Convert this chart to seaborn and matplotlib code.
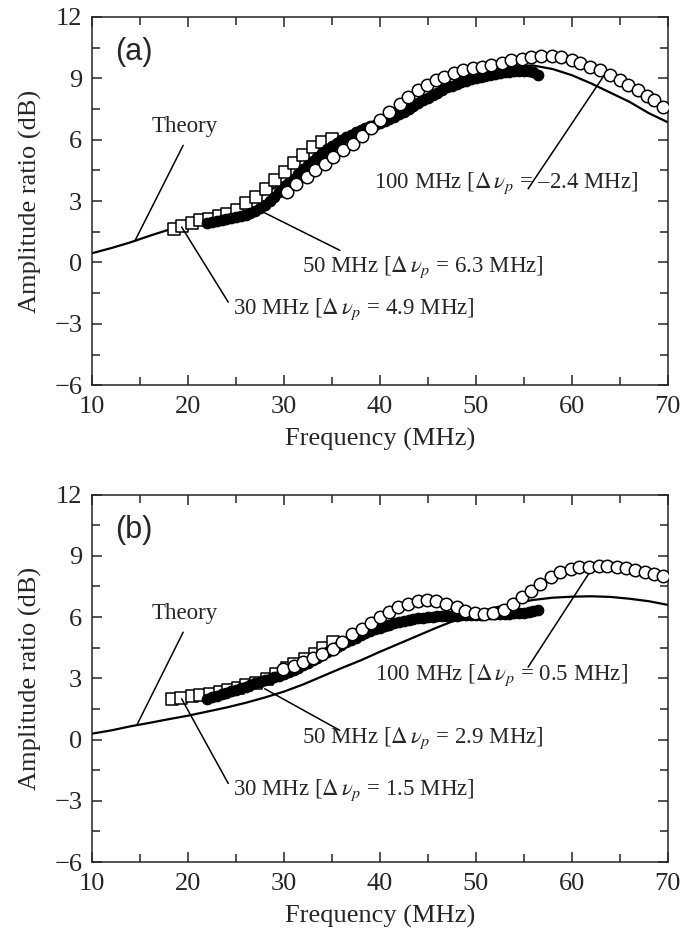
import matplotlib
matplotlib.use('Agg')
import pandas as pd
import matplotlib.pyplot as plt
import seaborn as sns
from matplotlib.ticker import MultipleLocator

# theory curves
theory_f = [10, 12, 14, 16, 18, 20, 22, 24, 26, 28, 30, 32, 34, 36, 38, 40,
            42, 44, 46, 48, 50, 52, 54, 56, 58, 60, 62, 64, 66, 68, 70]
theory_a = [0.45, 0.70, 0.98, 1.30, 1.60, 1.90, 2.15, 2.45, 2.85, 3.35, 3.95, 4.60,
            5.25, 5.90, 6.50, 7.05, 7.55, 8.00, 8.45, 8.85, 9.20, 9.45, 9.62, 9.62,
            9.45, 9.15, 8.75, 8.30, 7.85, 7.30, 6.85]
theory_b = [0.29, 0.45, 0.65, 0.82, 1.00, 1.17, 1.37, 1.57, 1.80, 2.06, 2.35, 2.70,
            3.10, 3.50, 3.88, 4.30, 4.70, 5.10, 5.50, 5.87, 6.20, 6.47, 6.68, 6.84,
            6.95, 7.00, 7.02, 6.99, 6.90, 6.78, 6.60]

# 30 MHz transducer (squares)
f30_a = [18.5, 19.4, 20.4, 21.3, 22.2, 23.2, 24.1, 25.1, 26.1, 27.1, 28.1, 29.1,
         30.1, 31.0, 32.0, 33.0, 34.0, 35.0]
db30_a = [1.65, 1.76, 1.93, 2.06, 2.14, 2.25, 2.39, 2.58, 2.88, 3.20, 3.61, 4.02,
          4.43, 4.84, 5.25, 5.65, 5.90, 6.01]
f30_b = [18.3, 19.3, 20.4, 21.3, 22.3, 23.3, 24.2, 25.2, 26.1, 27.1, 28.2, 29.2,
         30.3, 31.1, 32.2, 33.2, 34.1, 35.1]
db30_b = [2.00, 2.02, 2.12, 2.17, 2.25, 2.33, 2.41, 2.54, 2.66, 2.77, 2.98, 3.23,
          3.52, 3.72, 3.96, 4.20, 4.50, 4.80]

# 50 MHz transducer (filled circles)
f50 = [22.0, 22.5, 23.0, 23.5, 24.0, 24.5, 25.0, 25.5, 26.0, 26.5, 27.0, 27.5,
       28.0, 28.5, 29.0, 29.5, 30.0, 30.5, 31.0, 31.5, 32.0, 32.5, 33.0, 33.5,
       34.0, 34.5, 35.0, 35.5, 36.0, 36.5, 37.0, 37.5, 38.0, 38.5, 39.0, 39.5,
       40.0, 40.5, 41.0, 41.5, 42.0, 42.5, 43.0, 43.5, 44.0, 44.5, 45.0, 45.5,
       46.0, 46.5, 47.0, 47.5, 48.0, 48.5, 49.0, 49.5, 50.0, 50.5, 51.0, 51.5,
       52.0, 52.5, 53.0, 53.5, 54.0, 54.5, 55.0, 55.5, 56.0, 56.5]
db50_a = [1.95, 1.99, 2.03, 2.06, 2.10, 2.15, 2.20, 2.26, 2.32, 2.40, 2.50, 2.64,
          2.80, 3.00, 3.20, 3.42, 3.65, 3.88, 4.10, 4.33, 4.55, 4.75, 4.95, 5.15,
          5.35, 5.53, 5.70, 5.85, 6.00, 6.13, 6.25, 6.35, 6.45, 6.55, 6.65, 6.73,
          6.82, 6.91, 7.00, 7.12, 7.25, 7.37, 7.50, 7.65, 7.80, 7.93, 8.05, 8.18,
          8.30, 8.43, 8.55, 8.64, 8.72, 8.80, 8.88, 8.94, 9.00, 9.05, 9.10, 9.15,
          9.20, 9.24, 9.28, 9.31, 9.33, 9.34, 9.35, 9.33, 9.28, 9.18]
db50_b = [2.00, 2.07, 2.15, 2.22, 2.30, 2.37, 2.45, 2.52, 2.60, 2.67, 2.75, 2.82,
          2.90, 2.97, 3.05, 3.12, 3.20, 3.31, 3.42, 3.53, 3.65, 3.77, 3.90, 4.02,
          4.15, 4.27, 4.40, 4.52, 4.65, 4.77, 4.88, 4.99, 5.10, 5.20, 5.30, 5.40,
          5.48, 5.56, 5.63, 5.70, 5.76, 5.81, 5.86, 5.90, 5.94, 5.97, 6.00, 6.02,
          6.03, 6.04, 6.05, 6.06, 6.07, 6.08, 6.09, 6.10, 6.11, 6.12, 6.13, 6.14,
          6.15, 6.16, 6.16, 6.17, 6.18, 6.19, 6.21, 6.24, 6.28, 6.33]

# 100 MHz transducer (open circles)
f100_a = [30.3, 31.3, 32.4, 33.2, 34.3, 35.1, 36.2, 37.2, 38.1, 39.1, 40.0, 41.0,
          42.1, 42.9, 44.0, 44.9, 45.8, 46.7, 47.7, 48.7, 49.7, 50.6, 51.6, 52.7,
          53.7, 54.8, 55.8, 56.8, 57.9, 58.9, 60.0, 60.9, 61.9, 62.9, 64.0, 65.0,
          65.9, 66.9, 67.8, 68.6, 69.5]
db100_a = [3.44, 3.85, 4.17, 4.50, 4.83, 5.15, 5.51, 5.80, 6.16, 6.57, 6.98, 7.35,
           7.73, 8.08, 8.41, 8.68, 8.92, 9.08, 9.25, 9.38, 9.49, 9.57, 9.66, 9.76,
           9.87, 9.95, 10.03, 10.08, 10.08, 10.02, 9.90, 9.74, 9.57, 9.40, 9.17, 8.92,
           8.68, 8.43, 8.15, 7.92, 7.58]
f100_b = [29.9, 31.0, 32.0, 33.0, 34.0, 35.1, 36.1, 37.1, 38.1, 39.1, 40.0, 41.0,
          41.9, 42.9, 44.0, 44.9, 45.9, 46.9, 48.0, 48.9, 49.9, 50.9, 51.8, 52.9,
          53.9, 54.8, 55.8, 56.7, 57.8, 58.8, 59.9, 60.8, 61.8, 62.8, 63.7, 64.7,
          65.7, 66.6, 67.6, 68.6, 69.5]
db100_b = [3.47, 3.62, 3.80, 3.98, 4.20, 4.45, 4.80, 5.15, 5.42, 5.72, 6.00, 6.24,
           6.48, 6.65, 6.81, 6.85, 6.81, 6.65, 6.48, 6.32, 6.19, 6.16, 6.19, 6.36,
           6.65, 6.97, 7.30, 7.63, 7.95, 8.20, 8.36, 8.44, 8.47, 8.52, 8.52, 8.47,
           8.41, 8.31, 8.20, 8.12, 8.03]

labels_a = ['30 MHz [$\\Delta\\,\\nu_p$ = 4.9 MHz]', '50 MHz [$\\Delta\\,\\nu_p$ = 6.3 MHz]',
            '100 MHz [$\\Delta\\,\\nu_p$ = \u20132.4 MHz]']
labels_b = ['30 MHz [$\\Delta\\,\\nu_p$ = 1.5 MHz]', '50 MHz [$\\Delta\\,\\nu_p$ = 2.9 MHz]',
            '100 MHz [$\\Delta\\,\\nu_p$ = 0.5 MHz]']

sns.set_style('ticks')
plt.rcParams['font.family'] = ['Liberation Serif', 'DejaVu Serif']
plt.rcParams['mathtext.fontset'] = 'stix'
plt.rcParams['axes.linewidth'] = 1.1

fig = plt.figure(figsize=(6.97, 9.35), dpi=100)
ax_a = fig.add_axes([0.132, 0.588, 0.826, 0.394])
ax_b = fig.add_axes([0.132, 0.078, 0.826, 0.393])


def panel(ax, th, f30, d30, d50, f100, d100, tag, labels, pos):
    sns.lineplot(x=theory_f, y=th, ax=ax, color='black', lw=1.6, zorder=2)
    sns.scatterplot(x=f30, y=d30, ax=ax, marker='s', s=72, color='white',
                    edgecolor='black', linewidth=1.1, zorder=3)
    sns.scatterplot(x=f50, y=d50, ax=ax, marker='o', s=58, color='black',
                    edgecolor='black', linewidth=0.8, zorder=4)
    sns.scatterplot(x=f100, y=d100, ax=ax, marker='o', s=80, color='white',
                    edgecolor='black', linewidth=1.1, zorder=5)
    ax.set_xlim(10, 70)
    ax.set_ylim(-6, 12)
    ax.xaxis.set_major_locator(MultipleLocator(10))
    ax.xaxis.set_minor_locator(MultipleLocator(5))
    ax.yaxis.set_major_locator(MultipleLocator(3))
    ax.yaxis.set_minor_locator(MultipleLocator(1.5))
    ax.tick_params(which='both', direction='in', top=True, right=True,
                   width=1.1, labelsize=19)
    ax.tick_params(axis='x', which='both', pad=8)
    ax.tick_params(axis='y', which='both', pad=7)
    ax.tick_params(which='major', length=7)
    ax.tick_params(which='minor', length=5.5)
    ax.set_xlabel('Frequency (MHz)', fontsize=19, labelpad=7)
    ax.set_ylabel('Amplitude ratio (dB)', fontsize=19, labelpad=9)
    ax.text(0.073, 0.905, tag, transform=ax.transAxes, fontsize=22,
            family='Liberation Sans', ha='center', va='center')
    # annotations: (line start, line end, text pos, ha)
    for (p0, p1, tp, ha), lab in zip(pos[1:], labels):
        ax.annotate('', xy=p0, xytext=p1,
                    arrowprops=dict(arrowstyle='-', lw=1.1, color='black',
                                    shrinkA=0, shrinkB=0))
        ax.text(tp[0], tp[1], lab, fontsize=16.5, ha=ha, va='center')
    p0, p1, tp, ha = pos[0]
    ax.annotate('', xy=p0, xytext=p1,
                arrowprops=dict(arrowstyle='-', lw=1.1, color='black',
                                shrinkA=0, shrinkB=0))
    ax.text(tp[0], tp[1], 'Theory', fontsize=16.5, ha=ha, va='center')


pos_a = [((14.5, 1.08), (19.5, 5.72), (19.7, 6.62), 'center'),
         ((19.34, 1.73), (24.2, -1.94), (24.7, -2.3), 'left'),
         ((27.84, 2.46), (35.83, 0.59), (31.85, -0.23), 'left'),
         ((63.6, 9.3), (55.45, 3.6), (66.9, 3.85), 'right')]
pos_b = [((14.66, 0.7), (19.5, 5.26), (19.7, 6.16), 'center'),
         ((19.34, 2.0), (24.2, -2.15), (24.7, -2.48), 'left'),
         ((28.0, 2.49), (35.83, 0.45), (31.85, 0.05), 'left'),
         ((62.2, 8.44), (55.45, 3.55), (65.86, 3.14), 'right')]

panel(ax_a, theory_a, f30_a, db30_a, db50_a, f100_a, db100_a, '(a)', labels_a, pos_a)
panel(ax_b, theory_b, f30_b, db30_b, db50_b, f100_b, db100_b, '(b)', labels_b, pos_b)

fig.savefig('out.png', dpi=100)
